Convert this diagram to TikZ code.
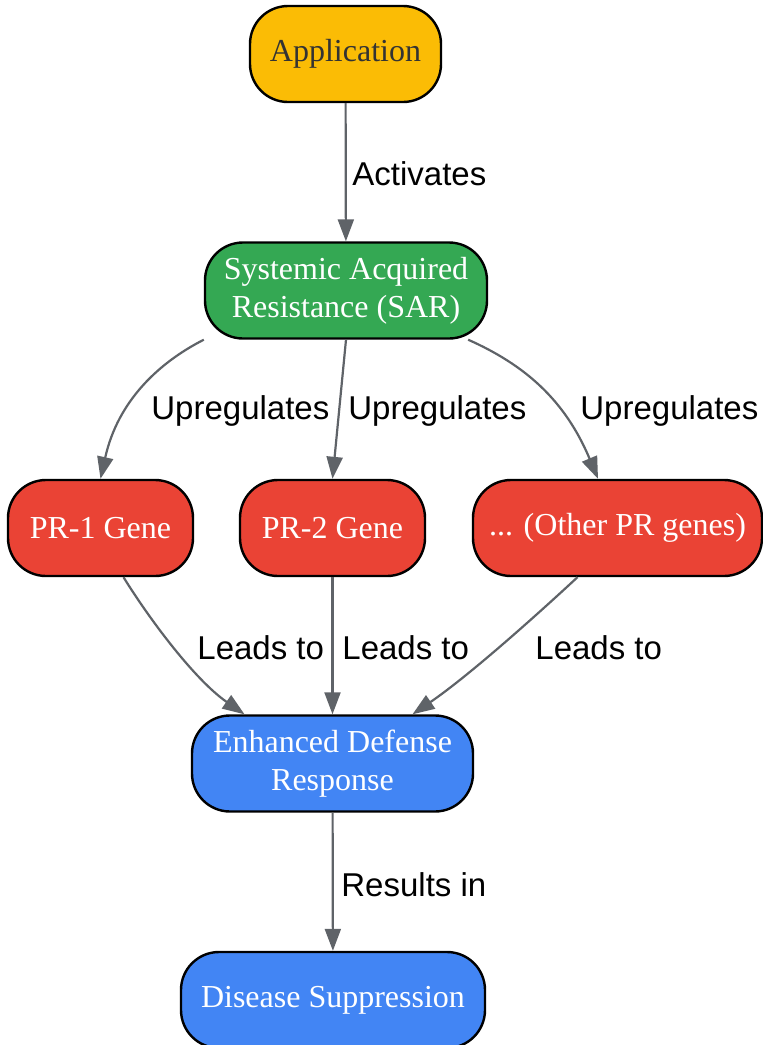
\documentclass[tikz,border=0pt]{standalone}
\usepackage{fontspec}
\setmainfont{Liberation Serif}
\newfontfamily\lblfont{Liberation Sans}
\usetikzlibrary{arrows.meta}
\definecolor{appyellow}{HTML}{FBBC05}
\definecolor{sargreen}{HTML}{34A853}
\definecolor{prred}{HTML}{EA4335}
\definecolor{defblue}{HTML}{4285F4}
\definecolor{edgegrey}{HTML}{5F6368}
\definecolor{darktext}{HTML}{333333}
\tikzset{
	box/.style={draw=black, line width=1.2pt, rounded corners=19pt, minimum height=48pt, align=center, text=white, font=\fontsize{16}{19}\selectfont},
	edge/.style={draw=edgegrey, line width=1.1pt, -{Triangle[length=11pt,width=8pt]}},
	lbl/.style={font=\lblfont\fontsize{16.5}{19}\selectfont, anchor=west, inner sep=0pt}
}
\begin{document}
\begin{tikzpicture}[x=0.5pt,y=-0.5pt]
	\useasboundingbox (0,0) rectangle (762,1045);
	% nodes
	\node[box, fill=appyellow, text=darktext, minimum width=95.5pt] (app) at (345.5,54) {Application};
	\node[box, fill=sargreen, minimum width=141pt] (sar) at (346,290.5) {Systemic Acquired\\Resistance (SAR)};
	\node[box, fill=prred, minimum width=92.5pt] (pr1) at (100.5,528) {PR-1 Gene};
	\node[box, fill=prred, minimum width=92.5pt] (pr2) at (332.5,528) {PR-2 Gene};
	\node[box, fill=prred, minimum width=144.5pt] (prx) at (617.5,528) {... (Other PR genes)};
	\node[box, fill=defblue, minimum width=140.5pt] (edr) at (332.5,763.5) {Enhanced Defense\\Response};
	\node[box, fill=defblue, minimum width=152pt] (ds) at (333,1000) {Disease Suppression};
	% edges
	\draw[edge] (app) -- (sar);
	\draw[edge] (sar.south west) .. controls (160,362) and (118,400) .. (pr1.north);
	\draw[edge] (sar.south) -- (pr2.north);
	\draw[edge] ([xshift=-10pt]sar.south east) .. controls (525,365) and (565,400) .. ([xshift=-9.75pt]prx.north);
	\draw[edge] ([xshift=11.5pt]pr1.south) .. controls (150,620) and (195,680) .. ([xshift=-44pt]edr.north);
	\draw[edge] (pr2) -- (edr);
	\draw[edge] ([xshift=-20pt]prx.south) .. controls (540,612) and (470,675) .. ([xshift=40pt]edr.north);
	\draw[edge] (edr) -- (ds);
	% edge labels
	\node[lbl] (lact) at (352,174) {Activates};
	\node[lbl] (lup1) at (151,411) {Upregulates};
	\node[lbl] (lup2) at (348,411) {Upregulates};
	\node[lbl] (lup3) at (580,411) {Upregulates};
	\node[lbl] (llead1) at (197,648) {Leads to};
	\node[lbl] (llead2) at (342,648) {Leads to};
	\node[lbl] (llead3) at (535,648) {Leads to};
	\node[lbl] (lres) at (341,885) {Results in};
\end{tikzpicture}
\end{document}
